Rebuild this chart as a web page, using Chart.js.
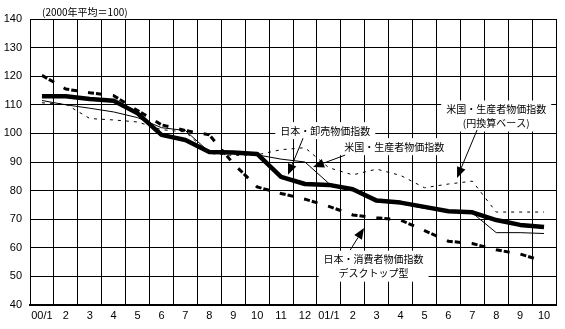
<!DOCTYPE html>
<html lang="ja">
<head>
<meta charset="utf-8">
<script src="https://cdn.jsdelivr.net/npm/chart.js@4.4.1/dist/chart.umd.min.js"></script>
<style>
  html,body{margin:0;padding:0;background:#fff;}
  #wrap{position:relative;width:565px;height:329px;}
</style>
</head>
<body>
<div id="wrap"><canvas id="c" width="565" height="329"></canvas></div>
<script>
// months 2000/1 .. 2001/10
const months = ['00/1','2','3','4','5','6','7','8','9','10','11','12','01/1','2','3','4','5','6','7','8','9','10'];

// 2000 average = 100
const jpWholesale = [113, 113, 112, 111.4, 107, 99.5, 97.7, 93.5, 93.3, 92.8, 84.8, 82.3, 82, 80.5, 76.5, 75.8, 74.3, 72.8, 72.4, 69.7, 68, 67.3];
const usProducer  = [111.5, 110, 108.8, 107.5, 105.5, 102, 101, 93.5, 93.3, 92.5, 91, 90, 82.5, 80.2, 76.1, 75.4, 73.8, 72.6, 72.2, 65.3, 65.3, 65];
const usProducerYen = [110.7, 110.2, 105.2, 104.7, 104, 101.3, 100.5, 93, 92.3, 92.5, 94.3, 95, 88, 85.5, 87.5, 85.3, 81, 82.3, 83.3, 72.5, 72.5, 72.5];
const jpDesktop   = [120.3, 115.5, 114.2, 113.2, 108, 103, 101, 99.5, 89.5, 81.3, 79, 77, 74.5, 71.5, 70.5, 69.7, 66, 62.3, 61.5, 59.3, 57.8, 55.3];

const yMin = 40, yMax = 140, yStep = 10;
const unitNote = '(2000年平均＝100)';

// callouts: text centre, arrow start and tip, all in (month index, value)
const notes = [
  { lines: ['日本・卸売物価指数'], at: [11.85, 100.8], from: [10.92, 98.3], to: [10.29, 85.5] },
  { lines: ['米国・生産者物価指数'], at: [14.73, 95.2], from: [12.68, 92.4], to: [11.34, 88.25] },
  { lines: ['米国・生産者物価指数', '(円換算ベース)'], at: [19.0, 105.9], from: [18.2, 101.2], to: [17.36, 84.4] },
  { lines: ['日本・消費者物価指数', 'デスクトップ型'], at: [13.87, 53.4], from: [12.89, 59.2], to: [13.47, 66.9] }
];

const jpFont = '10px "Noto Sans CJK JP", sans-serif';

const notesPlugin = {
  id: 'notes',
  afterDatasetsDraw(chart) {
    const {ctx, chartArea, scales: {x, y}} = chart;
    ctx.save();
    ctx.font = jpFont;
    ctx.textAlign = 'center';
    ctx.textBaseline = 'middle';

    // unit label above the plot
    ctx.fillStyle = '#000';
    ctx.textAlign = 'left';
    ctx.fillText(unitNote, chartArea.left + 12, chartArea.top - 7);
    ctx.textAlign = 'center';

    notes.forEach(n => {
      const cx = x.getPixelForValue(n.at[0]);
      const cy = y.getPixelForValue(n.at[1]);
      const lh = 14;
      const top0 = cy - (n.lines.length - 1) * lh / 2;
      const w = Math.max(...n.lines.map(t => ctx.measureText(t).width));
      // white box hides the grid behind the text
      ctx.fillStyle = '#fff';
      ctx.fillRect(cx - w / 2 - 5, top0 - 9, w + 10, (n.lines.length - 1) * lh + 17);
      ctx.fillStyle = '#000';
      n.lines.forEach((t, i) => ctx.fillText(t, cx, top0 + i * lh));

      // arrow
      const x1 = x.getPixelForValue(n.from[0]), y1 = y.getPixelForValue(n.from[1]);
      const x2 = x.getPixelForValue(n.to[0]),   y2 = y.getPixelForValue(n.to[1]);
      const ang = Math.atan2(y2 - y1, x2 - x1);
      const len = 11, half = 4.5;
      const bx = x2 - len * Math.cos(ang), by = y2 - len * Math.sin(ang);
      ctx.strokeStyle = '#000';
      ctx.lineWidth = 1;
      ctx.beginPath(); ctx.moveTo(x1, y1); ctx.lineTo(bx, by); ctx.stroke();
      ctx.beginPath();
      ctx.moveTo(x2, y2);
      ctx.lineTo(bx + half * Math.sin(ang), by - half * Math.cos(ang));
      ctx.lineTo(bx - half * Math.sin(ang), by + half * Math.cos(ang));
      ctx.closePath(); ctx.fill();
    });
    ctx.restore();
  }
};

const line = (label, data, opts) => Object.assign({
  label, data,
  borderColor: '#000',
  backgroundColor: '#000',
  pointRadius: 0,
  tension: 0,
  fill: false
}, opts);

new Chart(document.getElementById('c'), {
  type: 'line',
  data: {
    labels: months,
    datasets: [
      line('米国・生産者物価指数(円換算ベース)', usProducerYen, { borderWidth: 1, borderDash: [3, 5] }),
      line('日本・消費者物価指数 デスクトップ型', jpDesktop, { borderWidth: 3, borderDash: [6, 2, 6, 11] }),
      line('日本・卸売物価指数', jpWholesale, { borderWidth: 4.5, borderJoinStyle: 'round' }),
      line('米国・生産者物価指数', usProducer, { borderWidth: 1 })
    ]
  },
  options: {
    responsive: false,
    animation: false,
    devicePixelRatio: 1,
    layout: { padding: { top: 19, right: 9, left: 0, bottom: 0 } },
    plugins: { legend: { display: false }, tooltip: { enabled: false } },
    scales: {
      x: {
        offset: true,
        grid: {
          offset: true,
          color: '#000',
          drawTicks: false,
          lineWidth: c => c.index === months.length ? 2 : 1
        },
        border: { color: '#000', width: 2 },
        ticks: {
          color: '#000',
          padding: 4,
          maxRotation: 0,
          autoSkip: false,
          font: { family: '"Liberation Sans Narrow", "Liberation Sans", sans-serif', size: 11 }
        },
        afterFit: s => { s.height = 24; }
      },
      y: {
        min: yMin, max: yMax,
        grid: { color: '#000', drawTicks: false },
        border: { color: '#000', width: 1 },
        ticks: {
          stepSize: yStep,
          color: '#000',
          padding: 8,
          font: { family: '"Liberation Sans Narrow", "Liberation Sans", sans-serif', size: 11 }
        },
        afterFit: s => { s.width = 30; }
      }
    }
  },
  plugins: [notesPlugin]
});
</script>
</body>
</html>
